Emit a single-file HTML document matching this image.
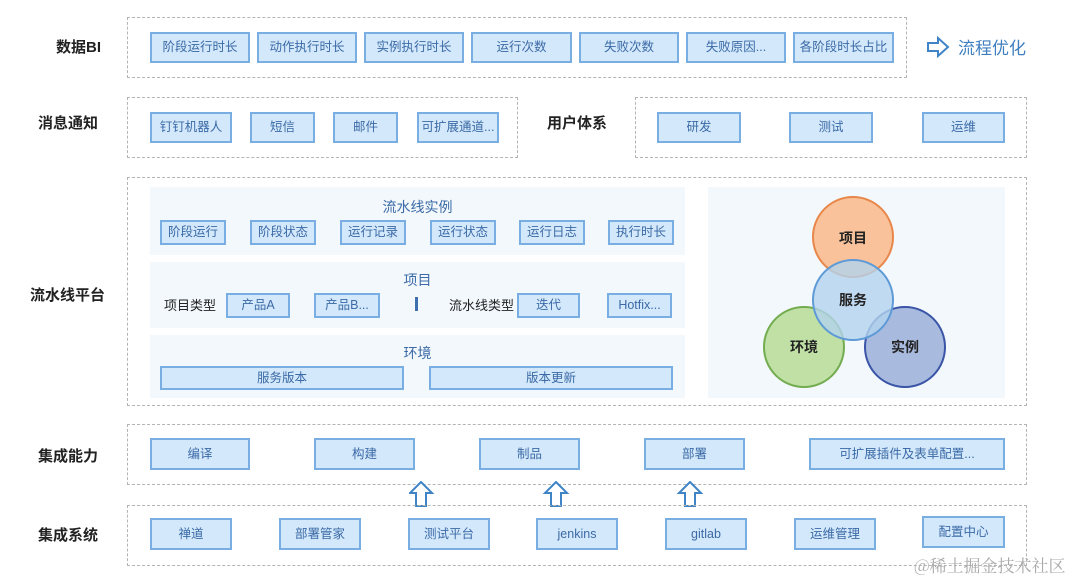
<!DOCTYPE html>
<html><head><meta charset="utf-8"><style>
body{margin:0;width:1080px;height:580px;background:#fff;position:relative;overflow:hidden;font-family:"Liberation Sans","Noto Sans CJK SC",sans-serif}
div{position:absolute;box-sizing:border-box}
.d{border:1.5px dashed #b4b4b4}
.p{background:#f3f8fd}
.b{background:#d3e8fb;border:2px solid #78aee2;color:#3b6aa6;font-size:12.5px;display:flex;align-items:center;justify-content:center;white-space:nowrap;line-height:1}
.l{font-size:15px;font-weight:bold;color:#222;white-space:nowrap}
.t{font-size:14px;color:#3b6aa6;white-space:nowrap;text-align:center}
.k{font-size:13px;color:#222;white-space:nowrap}
</style></head><body>
<div class="l" style="left:56px;top:36px">数据BI</div>
<div class="l" style="left:38px;top:112px">消息通知</div>
<div class="l" style="left:30px;top:284px">流水线平台</div>
<div class="l" style="left:38px;top:445px">集成能力</div>
<div class="l" style="left:38px;top:524px">集成系统</div>
<div class="l" style="left:547px;top:112px">用户体系</div>

<div class="d" style="left:127px;top:17px;width:780px;height:61px"></div>
<div class="b" style="left:150px;top:32px;width:100px;height:31px">阶段运行时长</div>
<div class="b" style="left:257px;top:32px;width:100px;height:31px">动作执行时长</div>
<div class="b" style="left:364px;top:32px;width:100px;height:31px">实例执行时长</div>
<div class="b" style="left:471px;top:32px;width:101px;height:31px">运行次数</div>
<div class="b" style="left:579px;top:32px;width:100px;height:31px">失败次数</div>
<div class="b" style="left:686px;top:32px;width:100px;height:31px">失败原因...</div>
<div class="b" style="left:793px;top:32px;width:101px;height:31px">各阶段时长占比</div>
<svg style="position:absolute;left:926px;top:36px" width="24" height="24"><path d="M2 7H12V2L22 11L12 20V15H2Z" fill="none" stroke="#3f84c6" stroke-width="2"/></svg>
<div style="left:958px;top:34px;font-size:17px;color:#3f7fc0">流程优化</div>

<div class="d" style="left:127px;top:97px;width:391px;height:61px"></div>
<div class="b" style="left:150px;top:112px;width:82px;height:31px">钉钉机器人</div>
<div class="b" style="left:250px;top:112px;width:65px;height:31px">短信</div>
<div class="b" style="left:333px;top:112px;width:65px;height:31px">邮件</div>
<div class="b" style="left:417px;top:112px;width:82px;height:31px">可扩展通道...</div>
<div class="d" style="left:635px;top:97px;width:392px;height:61px"></div>
<div class="b" style="left:657px;top:112px;width:84px;height:31px">研发</div>
<div class="b" style="left:789px;top:112px;width:84px;height:31px">测试</div>
<div class="b" style="left:922px;top:112px;width:83px;height:31px">运维</div>

<div class="d" style="left:127px;top:177px;width:900px;height:229px"></div>
<div class="p" style="left:150px;top:187px;width:535px;height:68px"></div>
<div class="p" style="left:150px;top:262px;width:535px;height:66px"></div>
<div class="p" style="left:150px;top:335px;width:535px;height:63px"></div>
<div class="p" style="left:708px;top:187px;width:297px;height:211px"></div>
<div class="t" style="left:150px;top:197px;width:535px">流水线实例</div>
<div class="b" style="left:160px;top:220px;width:66px;height:25px">阶段运行</div>
<div class="b" style="left:250px;top:220px;width:66px;height:25px">阶段状态</div>
<div class="b" style="left:340px;top:220px;width:66px;height:25px">运行记录</div>
<div class="b" style="left:430px;top:220px;width:66px;height:25px">运行状态</div>
<div class="b" style="left:519px;top:220px;width:66px;height:25px">运行日志</div>
<div class="b" style="left:608px;top:220px;width:66px;height:25px">执行时长</div>
<div class="t" style="left:150px;top:270px;width:535px">项目</div>
<div class="k" style="left:164px;top:295px">项目类型</div>
<div class="b" style="left:226px;top:293px;width:64px;height:25px">产品A</div>
<div class="b" style="left:314px;top:293px;width:66px;height:25px">产品B...</div>
<div style="left:415px;top:297px;width:3px;height:14px;background:#3f6fae"></div>
<div class="k" style="left:449px;top:295px">流水线类型</div>
<div class="b" style="left:517px;top:293px;width:63px;height:25px">迭代</div>
<div class="b" style="left:607px;top:293px;width:65px;height:25px">Hotfix...</div>
<div class="t" style="left:150px;top:343px;width:535px">环境</div>
<div class="b" style="left:160px;top:366px;width:244px;height:24px">服务版本</div>
<div class="b" style="left:429px;top:366px;width:244px;height:24px">版本更新</div>
<svg style="position:absolute;left:708px;top:187px" width="297" height="211">
<circle cx="145" cy="50" r="40" fill="#f9c29b" stroke="#e8874a" stroke-width="2"/>
<circle cx="96" cy="160" r="40" fill="#c0e0a6" stroke="#73ac4f" stroke-width="2"/>
<circle cx="197" cy="160" r="40" fill="#a9badf" stroke="#3a55a6" stroke-width="2"/>
<circle cx="145" cy="113" r="40" fill="#b3d3ee" fill-opacity="0.8" stroke="#5e9ad6" stroke-width="2"/>
<g font-size="14" font-weight="bold" fill="#222" text-anchor="middle" font-family="Liberation Sans,Noto Sans CJK SC,sans-serif">
<text x="145" y="56">项目</text><text x="145" y="118">服务</text><text x="96" y="165">环境</text><text x="197" y="165">实例</text></g>
</svg>

<div class="d" style="left:127px;top:424px;width:900px;height:61px"></div>
<div class="b" style="left:150px;top:438px;width:100px;height:32px">编译</div>
<div class="b" style="left:314px;top:438px;width:101px;height:32px">构建</div>
<div class="b" style="left:479px;top:438px;width:101px;height:32px">制品</div>
<div class="b" style="left:644px;top:438px;width:101px;height:32px">部署</div>
<div class="b" style="left:809px;top:438px;width:196px;height:32px">可扩展插件及表单配置...</div>
<svg style="position:absolute;left:409px;top:481px" width="300" height="27">
<g fill="#fff" stroke="#3f84c6" stroke-width="2"><path d="M12 1L23 12H17V25H7V12H1Z"/><path d="M147 1L158 12H152V25H142V12H136Z"/><path d="M281 1L292 12H286V25H276V12H270Z"/></g></svg>

<div class="d" style="left:127px;top:505px;width:900px;height:61px"></div>
<div class="b" style="left:150px;top:518px;width:82px;height:32px">禅道</div>
<div class="b" style="left:279px;top:518px;width:82px;height:32px">部署管家</div>
<div class="b" style="left:408px;top:518px;width:82px;height:32px">测试平台</div>
<div class="b" style="left:536px;top:518px;width:82px;height:32px">jenkins</div>
<div class="b" style="left:665px;top:518px;width:82px;height:32px">gitlab</div>
<div class="b" style="left:794px;top:518px;width:82px;height:32px">运维管理</div>
<div class="b" style="left:922px;top:516px;width:83px;height:32px">配置中心</div>
<div style="left:914px;top:552px;font-size:17px;color:#aaa;font-family:'Noto Serif CJK SC',serif;white-space:nowrap">@稀土掘金技术社区</div>
</body></html>
